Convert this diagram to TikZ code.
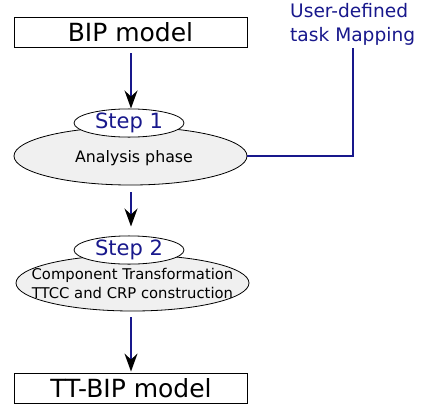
\documentclass[tikz,border=0pt]{standalone}
\usepackage{fontspec}
\setmainfont{DejaVu Sans}
\usetikzlibrary{arrows.meta,shapes.geometric}
\definecolor{nv}{RGB}{24,24,140}
\definecolor{lg}{RGB}{240,240,240}
\tikzset{
  modelbox/.style={draw=black,line width=0.9pt,minimum width=233pt,minimum height=30pt,inner sep=0pt,font=\fontsize{25}{30}\selectfont},
  stepell/.style={draw=black,ellipse,line width=0.8pt,fill=white,minimum width=110pt,minimum height=26pt,inner sep=0pt,text=nv,font=\fontsize{21}{24}\selectfont},
  phaseell/.style={draw=black,ellipse,line width=0.8pt,fill=lg,minimum width=233pt,minimum height=58pt,inner sep=0pt},
  phasetext/.style={inner sep=0pt,align=center,font=\fontsize{15.8}{19}\selectfont},
  flow/.style={draw=nv,line width=1.3pt,-{Stealth[black,length=18pt,width=13pt,inset=6pt]}},
}
\begin{document}
\begin{tikzpicture}[x=1pt,y=-1pt]
\useasboundingbox (0,0) rectangle (422,407);
\node[modelbox] (bip) at (130.5,32) {BIP model};
\node[phaseell] (analysis) at (130.5,156) {};
\node[phasetext] (atext) at (134,158) {Analysis phase};
\node[stepell] (step1) at (129,123) {Step 1};
\node[phaseell,minimum height=56pt] (comp) at (132.5,283) {};
\node[phasetext,font=\fontsize{14.8}{19}\selectfont] (ctext) at (132.5,283) {Component Transformation\\TTCC and CRP construction};
\node[stepell] (step2) at (129,250) {Step 2};
\node[modelbox] (tt) at (131,388) {TT-BIP model};
\node[anchor=north west,inner sep=0pt,text=nv,align=left,font=\fontsize{18.6}{24}\selectfont] (user) at (290,3) {User-defined\\task Mapping};
\coordinate (ut) at (353,48);
\draw[nv,line width=2pt] (ut) |- (analysis.east);
\draw[flow,shorten <=6pt] (131,47) coordinate (a1) -- (a1 |- step1.north);
\draw[flow,shorten <=7pt,shorten >=9pt] (131,185) coordinate (a2) -- (a2 |- step2.north);
\draw[flow,shorten <=6pt,shorten >=1pt] (131,311) coordinate (a3) -- (a3 |- tt.north);
\end{tikzpicture}
\end{document}
